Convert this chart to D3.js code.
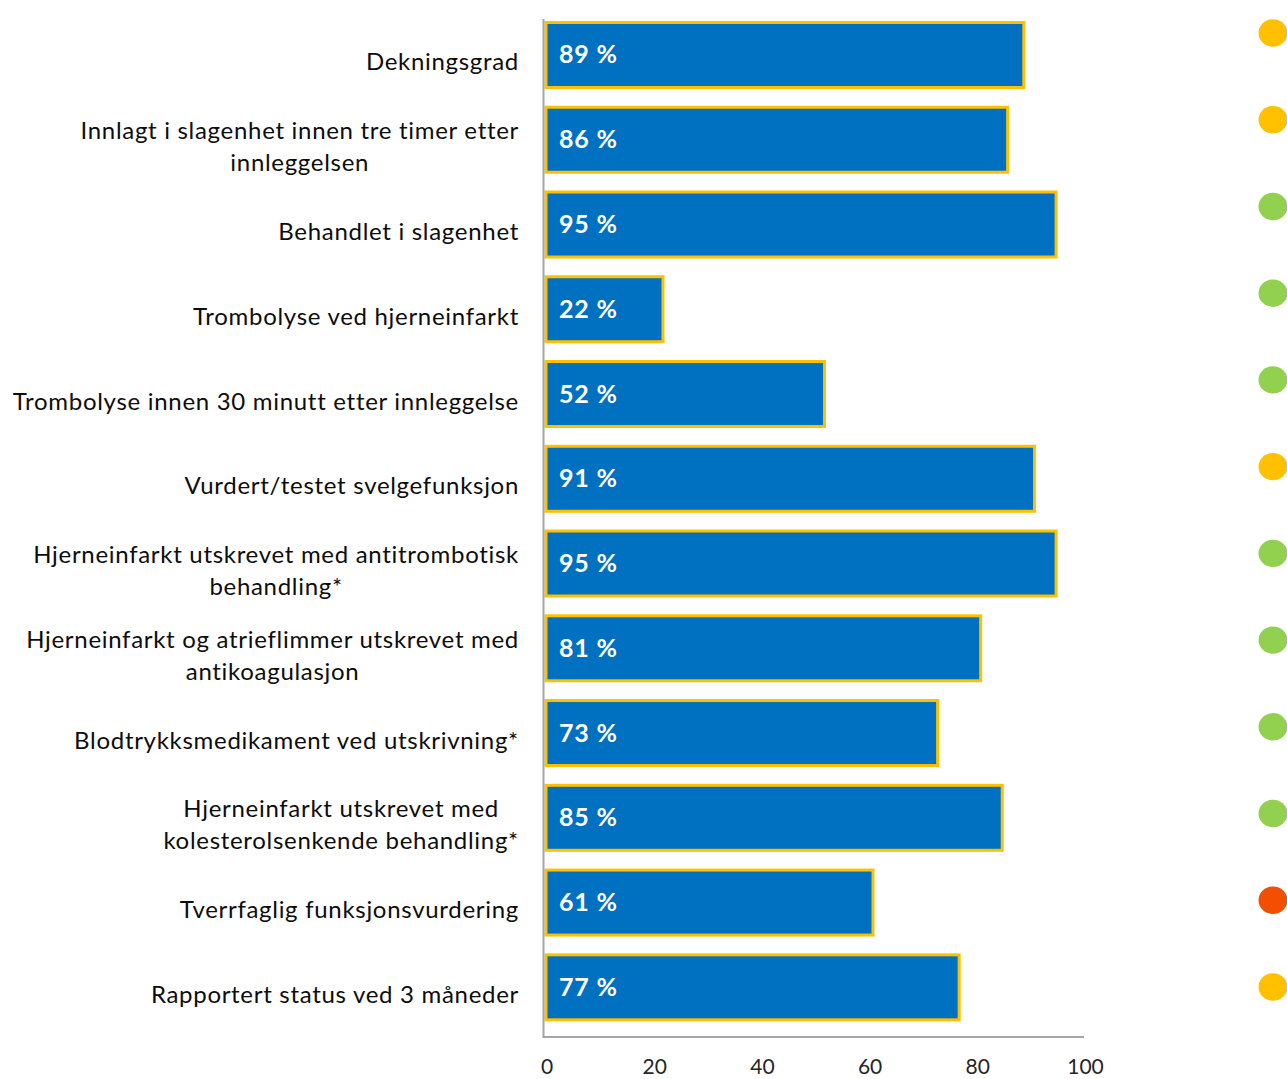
<!DOCTYPE html>
<html>
<head>
<meta charset="utf-8">
<script src="https://cdn.jsdelivr.net/npm/d3@7"></script>
<style>
  html, body { margin: 0; padding: 0; background: #ffffff; }
  svg { display: block; }
</style>
</head>
<body>
<svg id="chart" width="1287" height="1079"></svg>
<script>
// Quality indicators (share of patients, %) with a traffic-light status per indicator
const categories = [
  "Dekningsgrad",
  "Innlagt i slagenhet innen tre timer etter\ninnleggelsen",
  "Behandlet i slagenhet",
  "Trombolyse ved hjerneinfarkt",
  "Trombolyse innen 30 minutt etter innleggelse",
  "Vurdert/testet svelgefunksjon",
  "Hjerneinfarkt utskrevet med antitrombotisk\nbehandling*",
  "Hjerneinfarkt og atrieflimmer utskrevet med\nantikoagulasjon",
  "Blodtrykksmedikament ved utskrivning*",
  "Hjerneinfarkt utskrevet med\nkolesterolsenkende behandling*",
  "Tverrfaglig funksjonsvurdering",
  "Rapportert status ved 3 måneder"
];
const values = [89, 86, 95, 22, 52, 91, 95, 81, 73, 85, 61, 77];
const status = ["moderat", "moderat", "høy", "høy", "høy", "moderat", "høy", "høy", "høy", "høy", "lav", "moderat"];
const xTicks = [0, 20, 40, 60, 80, 100];

const statusColor = d3.scaleOrdinal()
  .domain(["høy", "moderat", "lav"])
  .range(["#92D050", "#FFC000", "#F25000"]);

const svg = d3.select("#chart");
const font = "Lato, 'Open Sans', sans-serif";

const x = d3.scaleLinear().domain([0, 100]).range([544.5, 1083]);
const y = d3.scaleBand()
  .domain(categories)
  .range([11.6, 1028.7])
  .paddingInner(0.2213)
  .paddingOuter(0.1107);
const yDot = d3.scalePoint().domain(categories).range([33, 987]);

const axisColor = "#A6A6A6";
const baseY = 1037;

// bars
svg.append("g").selectAll("rect")
  .data(values)
  .join("rect")
  .attr("x", x(0) + 1.5)
  .attr("y", (d, i) => y(categories[i]) + 1.5)
  .attr("width", d => x(d) - x(0) - 1.5)
  .attr("height", y.bandwidth() - 1)
  .attr("fill", "#0070C0")
  .attr("stroke", "#FFC000")
  .attr("stroke-width", 3);

// value labels inside the bars
svg.append("g").selectAll("text")
  .data(values)
  .join("text")
  .attr("x", x(0) + 14.5)
  .attr("y", (d, i) => y(categories[i]) + y.bandwidth() / 2 + 9.5)
  .attr("font-family", font)
  .attr("font-weight", 700)
  .attr("font-size", 25)
  .attr("letter-spacing", 0.8)
  .attr("fill", "#ffffff")
  .text(d => d + " %");

// axis lines
svg.append("line")
  .attr("x1", 543.5).attr("x2", 543.5)
  .attr("y1", 19).attr("y2", baseY)
  .attr("stroke", axisColor).attr("stroke-width", 2);
svg.append("line")
  .attr("x1", 542.5).attr("x2", x(100) + 1)
  .attr("y1", baseY).attr("y2", baseY)
  .attr("stroke", axisColor).attr("stroke-width", 2);

// x tick labels
const xAxis = d3.axisBottom(x).tickValues(xTicks).tickSize(0).tickPadding(0);
const gx = svg.append("g").attr("transform", `translate(0, ${baseY})`).call(xAxis);
gx.select(".domain").remove();
gx.selectAll("text")
  .attr("font-family", font)
  .attr("font-size", 21)
  .attr("fill", "#262626")
  .attr("dy", null)
  .attr("y", 37)
  .attr("dx", 2);

// category labels: right aligned block, wrapped lines centred within the block
const labelRight = 519;
const lineH = 31.7;
const gl = svg.append("g");
categories.forEach((c, i) => {
  const lines = c.split("\n");
  const cy = y(c) + y.bandwidth() / 2;
  const first = cy + 16.5 - (lines.length - 1) * lineH / 2;
  const t = gl.append("text")
    .attr("font-family", font)
    .attr("font-size", 24)
    .attr("letter-spacing", 0.7)
    .attr("fill", "#0d0d0d");
  const spans = lines.map((ln, k) => t.append("tspan")
    .attr("y", first + k * lineH)
    .text(ln));
  if (lines.length === 1) {
    t.attr("text-anchor", "end");
    spans[0].attr("x", labelRight);
  } else {
    const w = d3.max(spans, s => s.node().getComputedTextLength());
    t.attr("text-anchor", "middle");
    spans.forEach(s => s.attr("x", labelRight - w / 2));
  }
});

// status dots
svg.append("g").selectAll("ellipse")
  .data(status)
  .join("ellipse")
  .attr("cx", 1273)
  .attr("cy", (d, i) => yDot(categories[i]))
  .attr("rx", 14.5)
  .attr("ry", 13.7)
  .attr("fill", d => statusColor(d));
</script>
</body>
</html>
